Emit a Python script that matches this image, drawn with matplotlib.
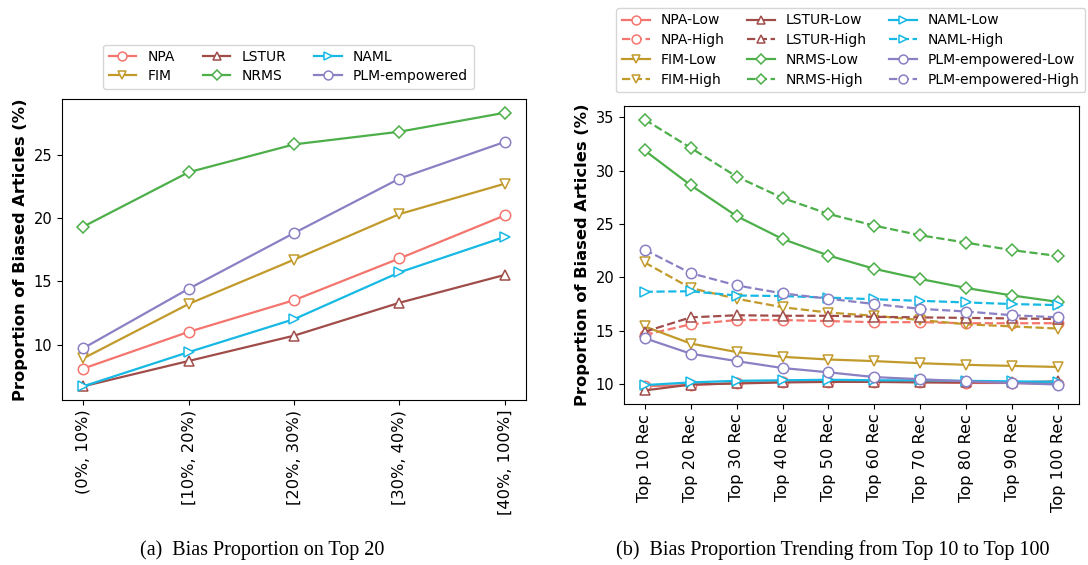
import matplotlib.pyplot as plt


# Left panel: share of biased articles inside the top 20, per bias bucket.
BUCKETS = ["(0%, 10%)", "[10%, 20%)", "[20%, 30%)", "[30%, 40%)", "[40%, 100%]"]
NPA_TOP20 = [8.1, 11.0, 13.5, 16.8, 20.2]
FIM_TOP20 = [8.9, 13.2, 16.7, 20.3, 22.7]
LSTUR_TOP20 = [6.7, 8.7, 10.7, 13.3, 15.5]
NRMS_TOP20 = [19.3, 23.6, 25.8, 26.8, 28.3]
NAML_TOP20 = [6.7, 9.4, 12.0, 15.7, 18.5]
PLM_TOP20 = [9.7, 14.4, 18.8, 23.1, 26.0]

# Right panel: trend from top 10 to top 100 recommendations.
TOP_K = ["Top 10 Rec", "Top 20 Rec", "Top 30 Rec", "Top 40 Rec", "Top 50 Rec",
         "Top 60 Rec", "Top 70 Rec", "Top 80 Rec", "Top 90 Rec", "Top 100 Rec"]
NPA_LOW = [9.8, 9.9, 10.1, 10.2, 10.2, 10.2, 10.2, 10.1, 10.1, 10.0]
NPA_HIGH = [14.6, 15.6, 16.0, 16.0, 15.9, 15.8, 15.8, 15.7, 15.7, 15.7]
FIM_LOW = [15.4, 13.8, 13.0, 12.55, 12.3, 12.15, 11.95, 11.8, 11.7, 11.6]
FIM_HIGH = [21.4, 19.0, 18.0, 17.2, 16.7, 16.4, 16.0, 15.6, 15.4, 15.2]
LSTUR_LOW = [9.4, 9.95, 10.05, 10.15, 10.2, 10.2, 10.15, 10.15, 10.15, 10.25]
LSTUR_HIGH = [14.9, 16.25, 16.45, 16.4, 16.4, 16.3, 16.25, 16.2, 16.15, 16.1]
NRMS_LOW = [31.9, 28.65, 25.75, 23.6, 22.05, 20.8, 19.85, 19.0, 18.3, 17.7]
NRMS_HIGH = [34.8, 32.15, 29.45, 27.45, 25.95, 24.85, 23.95, 23.25, 22.55, 22.0]
NAML_LOW = [9.9, 10.15, 10.3, 10.35, 10.4, 10.35, 10.35, 10.3, 10.25, 10.2]
NAML_HIGH = [18.65, 18.7, 18.3, 18.25, 18.1, 17.95, 17.8, 17.65, 17.5, 17.4]
PLM_LOW = [14.3, 12.85, 12.15, 11.5, 11.1, 10.65, 10.45, 10.25, 10.1, 9.95]
PLM_HIGH = [22.6, 20.4, 19.25, 18.5, 18.0, 17.5, 17.05, 16.8, 16.45, 16.25]

# Model name -> (colour, marker)
STYLES = {
    "NPA": ("#F4756D", "o"),
    "FIM": ("#C29A2B", "v"),
    "LSTUR": ("#A04D4A", "^"),
    "NRMS": ("#4DAF4A", "D"),
    "NAML": ("#16B9E4", ">"),
    "PLM-empowered": ("#8A80C4", "o"),
}


def draw(ax, x, y, model, label, ls="-"):
    color, marker = STYLES[model]
    ms = 6 if marker == "D" else 7.5
    line, = ax.plot(x, y, ls=ls, color=color, marker=marker, ms=ms,
                    mfc="white", mec=color, mew=1.1, lw=1.6, label=label)
    return line


def main():
    fig = plt.figure(figsize=(10.88, 5.65), dpi=100)
    ax1 = fig.add_axes([0.057, 0.292, 0.4265, 0.5327])
    ax2 = fig.add_axes([0.5735, 0.285, 0.4182, 0.5274])

    # (a) top 20
    left = [
        draw(ax1, BUCKETS, NPA_TOP20, "NPA", "NPA"),
        draw(ax1, BUCKETS, FIM_TOP20, "FIM", "FIM"),
        draw(ax1, BUCKETS, LSTUR_TOP20, "LSTUR", "LSTUR"),
        draw(ax1, BUCKETS, NRMS_TOP20, "NRMS", "NRMS"),
        draw(ax1, BUCKETS, NAML_TOP20, "NAML", "NAML"),
        draw(ax1, BUCKETS, PLM_TOP20, "PLM-empowered", "PLM-empowered"),
    ]
    fig.legend(handles=left, ncol=3, loc="lower center",
               bbox_to_anchor=(0.265, 0.831), fontsize=10,
               columnspacing=2.0, handlelength=2.0, borderpad=0.4,
               labelspacing=0.35, markerscale=0.85)

    # (b) top 10 -> top 100
    right = [
        draw(ax2, TOP_K, NPA_LOW, "NPA", "NPA-Low"),
        draw(ax2, TOP_K, NPA_HIGH, "NPA", "NPA-High", "--"),
        draw(ax2, TOP_K, FIM_LOW, "FIM", "FIM-Low"),
        draw(ax2, TOP_K, FIM_HIGH, "FIM", "FIM-High", "--"),
        draw(ax2, TOP_K, LSTUR_LOW, "LSTUR", "LSTUR-Low"),
        draw(ax2, TOP_K, LSTUR_HIGH, "LSTUR", "LSTUR-High", "--"),
        draw(ax2, TOP_K, NRMS_LOW, "NRMS", "NRMS-Low"),
        draw(ax2, TOP_K, NRMS_HIGH, "NRMS", "NRMS-High", "--"),
        draw(ax2, TOP_K, NAML_LOW, "NAML", "NAML-Low"),
        draw(ax2, TOP_K, NAML_HIGH, "NAML", "NAML-High", "--"),
        draw(ax2, TOP_K, PLM_LOW, "PLM-empowered", "PLM-empowered-Low"),
        draw(ax2, TOP_K, PLM_HIGH, "PLM-empowered", "PLM-empowered-High", "--"),
    ]
    fig.legend(handles=right, ncol=3, loc="lower center",
               bbox_to_anchor=(0.782, 0.824), fontsize=10,
               columnspacing=1.6, handlelength=2.0, borderpad=0.4,
               labelspacing=0.42, markerscale=0.85)

    for ax in (ax1, ax2):
        ax.set_ylabel("Proportion of Biased Articles (%)", fontsize=11.7,
                      fontweight="bold")
        ax.tick_params(axis="y", labelsize=10.5)
        ax.tick_params(axis="x", labelsize=11.7, labelrotation=90)

    # Captions under each panel, LaTeX-like serif font.
    fig.text(0.241, 0.017, "(a)  Bias Proportion on Top 20",
             family="Liberation Serif", fontsize=14.5, ha="center")
    fig.text(0.765, 0.017, "(b)  Bias Proportion Trending from Top 10 to Top 100",
             family="Liberation Serif", fontsize=14.5, ha="center")

    fig.savefig("out.png", dpi=100)


if __name__ == "__main__":
    main()
